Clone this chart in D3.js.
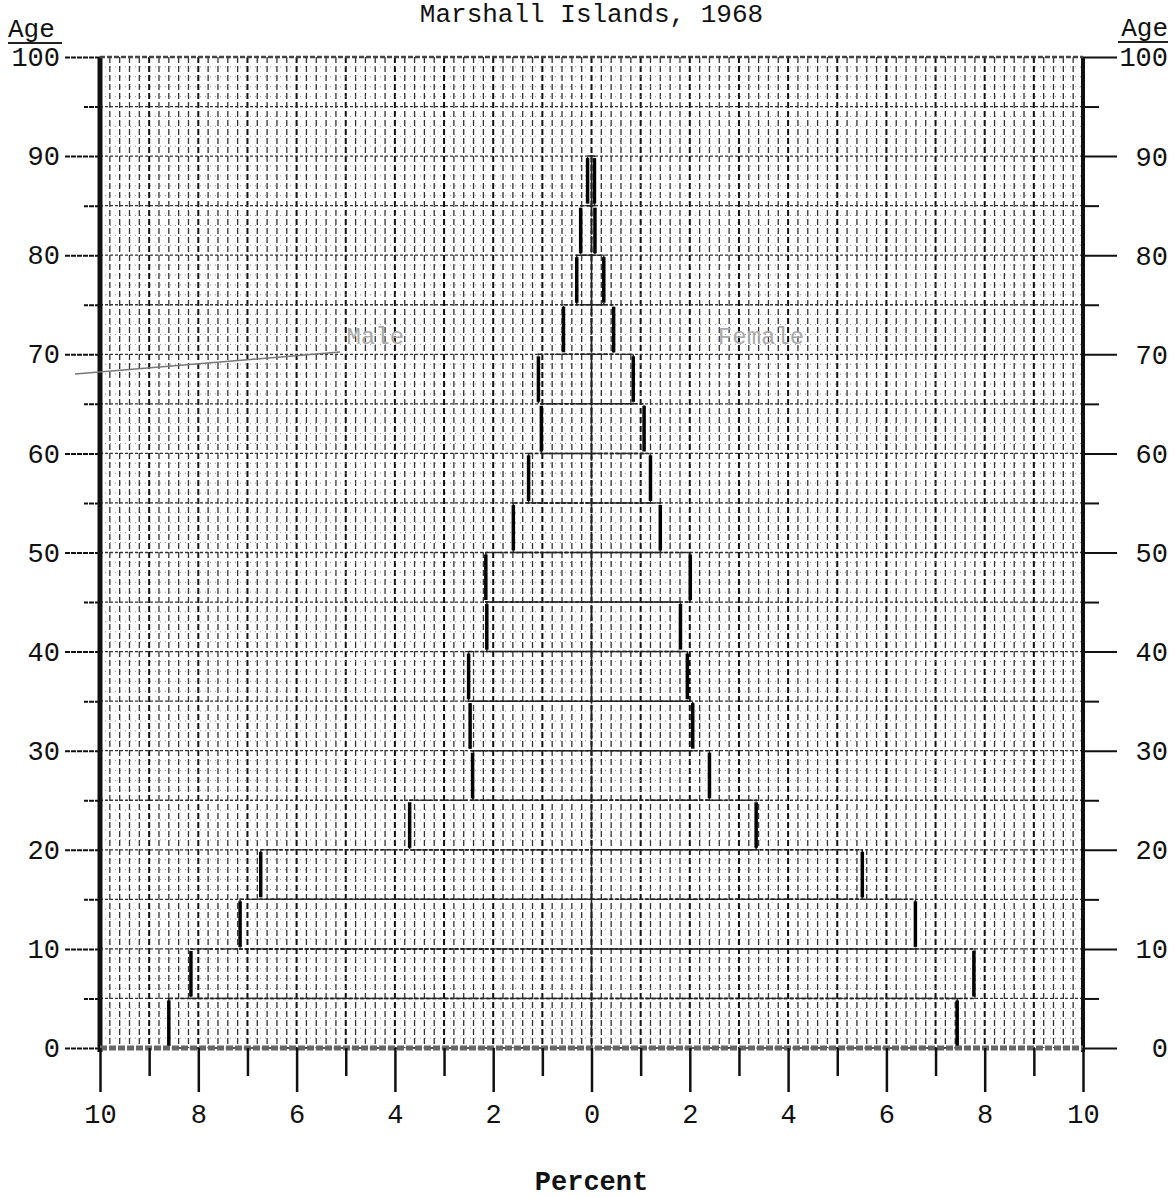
<!DOCTYPE html>
<html>
<head>
<meta charset="utf-8">
<script src="https://cdn.jsdelivr.net/npm/d3@7"></script>
<style>
  body { margin: 0; background: #fff; }
  svg text { font-family: "Liberation Mono", "DejaVu Sans Mono", monospace; fill: #111; }
</style>
</head>
<body>
<div id="chart"></div>
<script>
// 5-year age groups (lower bound), percent of total population
var ageStarts = [0, 5, 10, 15, 20, 25, 30, 35, 40, 45, 50, 55, 60, 65, 70, 75, 80, 85];
var male   = [8.6, 8.15, 7.15, 6.73, 3.70, 2.42, 2.47, 2.50, 2.13, 2.15, 1.59, 1.28, 1.02, 1.08, 0.57, 0.30, 0.22, 0.08];
var female = [7.44, 7.78, 6.59, 5.51, 3.35, 2.40, 2.06, 1.95, 1.81, 2.01, 1.40, 1.20, 1.07, 0.85, 0.45, 0.25, 0.07, 0.06];

var ageTicks = [0, 10, 20, 30, 40, 50, 60, 70, 80, 90, 100];
var ageMinorTicks = [5, 15, 25, 35, 45, 55, 65, 75, 85, 95];
var pctTicks = [-10, -8, -6, -4, -2, 0, 2, 4, 6, 8, 10];
var pctMinorTicks = [-9, -7, -5, -3, -1, 1, 3, 5, 7, 9];

var title = "Marshall Islands, 1968";

var width = 1175, height = 1197;
var margin = {top: 57, right: 92, bottom: 149, left: 100};

var x = d3.scaleLinear().domain([-10, 10]).range([margin.left, width - margin.right]);
var y = d3.scaleLinear().domain([0, 100]).range([height - margin.bottom, margin.top]);

var svg = d3.select("#chart").append("svg")
    .attr("width", width)
    .attr("height", height);

//graph paper: fine vertical lines every 0.2%, heavier every 1%
var grid = svg.append("g").attr("class", "grid");
var vLines = d3.range(-49, 50).map(function(d) { return d / 5; });
grid.selectAll("line.v")
    .data(vLines)
    .enter().append("line")
    .attr("class", "v")
    .attr("x1", function(d) { return x(d); })
    .attr("x2", function(d) { return x(d); })
    .attr("y1", y(100))
    .attr("y2", y(0))
    .attr("stroke", function(d) { return Math.abs(d % 1) < 1e-6 ? "#111" : "#333"; })
    .attr("stroke-width", function(d) { return Math.abs(d % 1) < 1e-6 ? 2 : 1.3; })
    .attr("stroke-dasharray", "6,3");

//horizontal lines every year (faint), every 5 years darker
var hLines = d3.range(1, 100);
grid.selectAll("line.h")
    .data(hLines)
    .enter().append("line")
    .attr("class", "h")
    .attr("x1", x(-10))
    .attr("x2", x(10))
    .attr("y1", function(d) { return y(d); })
    .attr("y2", function(d) { return y(d); })
    .attr("stroke", function(d) { return d % 5 === 0 ? "#333" : "#888"; })
    .attr("stroke-width", function(d) { return d % 5 === 0 ? 1.3 : 0.9; })
    .attr("stroke-dasharray", function(d) { return d % 5 === 0 ? "3,2" : "1,4"; });

//bars: outlined, with a heavy pen stroke at the outer end
var groups = ageStarts.map(function(a, i) { return {age: a, male: male[i], female: female[i]}; });
var bars = svg.append("g").attr("class", "bars");

function drawSide(key, sign) {
    var g = bars.selectAll("g." + key)
        .data(groups)
        .enter().append("g")
        .attr("class", key);
    g.append("rect")
        .attr("x", function(d) { return Math.min(x(0), x(sign * d[key])); })
        .attr("y", function(d) { return y(d.age + 5); })
        .attr("width", function(d) { return Math.abs(x(sign * d[key]) - x(0)); })
        .attr("height", function(d) { return y(d.age) - y(d.age + 5); })
        .attr("fill", "none")
        .attr("stroke", "#222")
        .attr("stroke-width", 1.5)
        .attr("stroke-dasharray", "4,2");
    g.append("line")
        .attr("x1", function(d) { return x(sign * d[key]); })
        .attr("x2", function(d) { return x(sign * d[key]); })
        .attr("y1", function(d) { return y(d.age + 5) + 2; })
        .attr("y2", function(d) { return y(d.age) - 2; })
        .attr("stroke", "#000")
        .attr("stroke-width", 3.5);
}
drawSide("male", -1);
drawSide("female", 1);

//frame
svg.append("line").attr("x1", x(-10)).attr("x2", x(-10)).attr("y1", y(100)).attr("y2", y(0) + 4)
    .attr("stroke", "#111").attr("stroke-width", 5);
svg.append("line").attr("x1", x(10)).attr("x2", x(10)).attr("y1", y(100)).attr("y2", y(0) + 4)
    .attr("stroke", "#111").attr("stroke-width", 4);
svg.append("line").attr("x1", x(-10)).attr("x2", x(10)).attr("y1", y(100)).attr("y2", y(100))
    .attr("stroke", "#444").attr("stroke-width", 2.5).attr("stroke-dasharray", "5,2");
svg.append("line").attr("x1", x(-10)).attr("x2", x(10)).attr("y1", y(0)).attr("y2", y(0))
    .attr("stroke", "#666").attr("stroke-width", 5).attr("stroke-dasharray", "7,2");

//left axis
var axisLeft = d3.axisLeft(y).tickValues(ageTicks).tickSize(36).tickPadding(4);
svg.append("g")
    .attr("class", "leftAxis")
    .attr("transform", "translate(" + x(-10) + ",0)")
    .call(axisLeft);
var axisLeftMinor = d3.axisLeft(y).tickValues(ageMinorTicks).tickSize(16).tickFormat("");
svg.append("g")
    .attr("class", "leftAxis minor")
    .attr("transform", "translate(" + x(-10) + ",0)")
    .call(axisLeftMinor);

//right axis (labels right aligned at the page edge)
var axisRight = d3.axisRight(y).tickValues(ageTicks).tickSize(34).tickFormat("");
svg.append("g")
    .attr("class", "rightAxis")
    .attr("transform", "translate(" + x(10) + ",0)")
    .call(axisRight);
var axisRightMinor = d3.axisRight(y).tickValues(ageMinorTicks).tickSize(16).tickFormat("");
svg.append("g")
    .attr("class", "rightAxis minor")
    .attr("transform", "translate(" + x(10) + ",0)")
    .call(axisRightMinor);
svg.append("g").selectAll("text")
    .data(ageTicks)
    .enter().append("text")
    .attr("x", 1168)
    .attr("y", function(d) { return y(d); })
    .attr("dy", "0.35em")
    .attr("text-anchor", "end")
    .attr("font-size", 27)
    .text(function(d) { return d; });

//bottom axis
var axisBottom = d3.axisBottom(x).tickValues(pctTicks).tickSize(44).tickPadding(12)
    .tickFormat(function(d) { return Math.abs(d); });
svg.append("g")
    .attr("class", "bottomAxis")
    .attr("transform", "translate(0," + y(0) + ")")
    .call(axisBottom);
var axisBottomMinor = d3.axisBottom(x).tickValues(pctMinorTicks).tickSize(28).tickFormat("");
svg.append("g")
    .attr("class", "bottomAxis minor")
    .attr("transform", "translate(0," + y(0) + ")")
    .call(axisBottomMinor);

//axis styling set by hand
svg.selectAll(".domain").remove();
svg.selectAll(".leftAxis line, .rightAxis line, .bottomAxis line")
    .attr("stroke", "#111")
    .attr("stroke-width", 2);
svg.selectAll(".leftAxis line").attr("stroke-dasharray", "5,1");
svg.selectAll(".bottomAxis line").attr("stroke-width", 2.5);
svg.selectAll(".leftAxis text, .bottomAxis text")
    .attr("font-size", 27)
    .attr("fill", "#111")
    .style("font-family", "'Liberation Mono', monospace");

//titles and labels
svg.append("text").attr("x", x(0)).attr("y", 22).attr("text-anchor", "middle")
    .attr("font-size", 26).text(title);
svg.append("text").attr("x", 8).attr("y", 37).attr("font-size", 26).text("Age");
svg.append("line").attr("x1", 8).attr("x2", 62).attr("y1", 43).attr("y2", 43)
    .attr("stroke", "#222").attr("stroke-width", 2);
svg.append("text").attr("x", 1168).attr("y", 36).attr("text-anchor", "end").attr("font-size", 26).text("Age");
svg.append("line").attr("x1", 1118).attr("x2", 1168).attr("y1", 42).attr("y2", 42)
    .attr("stroke", "#222").attr("stroke-width", 2);
svg.append("text").attr("x", x(0)).attr("y", 1190).attr("text-anchor", "middle")
    .attr("font-size", 27).attr("font-weight", "bold").text("Percent");

//faint handwritten sex labels
svg.append("text").attr("x", x(-4.4)).attr("y", 344).attr("text-anchor", "middle")
    .attr("font-size", 24).attr("fill", "#aaa").style("fill", "#aaa").text("Male");
svg.append("text").attr("x", x(3.45)).attr("y", 344).attr("text-anchor", "middle")
    .attr("font-size", 24).attr("fill", "#aaa").style("fill", "#aaa").text("Female");
svg.append("line").attr("x1", 75).attr("x2", 340).attr("y1", 374).attr("y2", 352)
    .attr("stroke", "#777").attr("stroke-width", 1.5);
</script>
</body>
</html>
